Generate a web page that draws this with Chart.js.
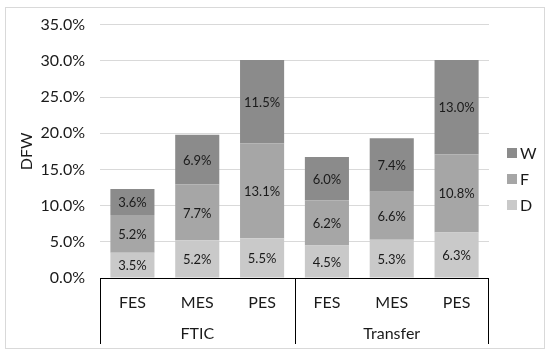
<!DOCTYPE html>
<html>
<head>
<meta charset="utf-8">
<script src="https://cdn.jsdelivr.net/npm/chart.js@4"></script>
<style>
  html, body { margin: 0; padding: 0; background: #fff; }
  #chart-box { width: 550px; height: 355px; }
</style>
</head>
<body>
<div id="chart-box"><canvas id="my-chart" width="550" height="355"></canvas></div>
<script>
'use strict';

//  DATA
let categories = ['FES', 'MES', 'PES', 'FES', 'MES', 'PES'];
let groups = ['FTIC', 'Transfer'];
let groupSize = 3;
let dValues = [3.5, 5.2, 5.5, 4.5, 5.3, 6.3];
let fValues = [5.2, 7.7, 13.1, 6.2, 6.6, 10.8];
let wValues = [3.6, 6.9, 11.5, 6.0, 7.4, 13.0];
let yTicks = [0, 5, 10, 15, 20, 25, 30, 35];

//  STYLE
let fontName = 'Lato, "Open Sans", sans-serif';
let textColor = '#1a1a1a';
let colorD = '#c9c9c9';
let colorF = '#a6a6a6';
let colorW = '#8b8b8b';

let canvasElem = document.getElementById('my-chart');

// PLUGINS

// white background + light frame round the whole chart
let framePlugin = {
  id: 'frame',
  beforeDraw(chart) {
    let ctx = chart.ctx;
    ctx.save();
    ctx.fillStyle = '#fff';
    ctx.fillRect(0, 0, chart.width, chart.height);
    ctx.strokeStyle = '#d9d9d9';
    ctx.lineWidth = 1;
    ctx.strokeRect(5.5, 7.5, 539, 341);
    ctx.restore();
  }
};

// percentage text in the middle of every segment
let valueLabelPlugin = {
  id: 'valueLabels',
  afterDatasetsDraw(chart) {
    let ctx = chart.ctx;
    ctx.save();
    ctx.font = '13px ' + fontName;
    ctx.fillStyle = textColor;
    ctx.textAlign = 'center';
    ctx.textBaseline = 'middle';
    chart.data.datasets.forEach((ds, i) => {
      let meta = chart.getDatasetMeta(i);
      meta.data.forEach((bar, j) => {
        let mid = (bar.y + bar.base) / 2;
        ctx.fillText(ds.data[j].toFixed(1) + '%', bar.x, mid + 1);
      });
    });
    ctx.restore();
  }
};

// second level of the category axis (FTIC / Transfer) with its lines
let groupAxisPlugin = {
  id: 'groupAxis',
  afterDraw(chart) {
    let ctx = chart.ctx;
    let xs = chart.scales.x;
    let area = chart.chartArea;
    let step = (area.right - area.left) / categories.length;
    let bottom = 344;
    ctx.save();
    ctx.strokeStyle = '#000';
    ctx.lineWidth = 1;
    ctx.beginPath();
    ctx.moveTo(area.left, Math.round(area.bottom) + 0.5);
    ctx.lineTo(area.right, Math.round(area.bottom) + 0.5);
    for (let g = 0; g <= groups.length; g++) {
      let x = Math.round(xs.getPixelForValue(g * groupSize) - step / 2) + 0.5;
      if (g === groups.length) {
        x = Math.round(area.right) - 0.5;
      }
      ctx.moveTo(x, area.bottom);
      ctx.lineTo(x, bottom);
    }
    ctx.stroke();

    ctx.font = '16px ' + fontName;
    ctx.fillStyle = textColor;
    ctx.textAlign = 'center';
    ctx.textBaseline = 'middle';
    for (let g = 0; g < groups.length; g++) {
      let first = xs.getPixelForValue(g * groupSize);
      let last = xs.getPixelForValue(g * groupSize + groupSize - 1);
      ctx.fillText(groups[g], (first + last) / 2, 334);
    }
    ctx.restore();
  }
};

// legend on the right, W on top
let legendPlugin = {
  id: 'sideLegend',
  afterDraw(chart) {
    let ctx = chart.ctx;
    let items = chart.data.datasets.slice().reverse();
    ctx.save();
    ctx.font = '16px ' + fontName;
    ctx.textAlign = 'left';
    ctx.textBaseline = 'middle';
    items.forEach((ds, i) => {
      let y = 153 + i * 26;
      ctx.fillStyle = ds.backgroundColor;
      ctx.fillRect(507, y - 5, 10, 10);
      ctx.fillStyle = textColor;
      ctx.fillText(ds.label, 520, y + 1);
    });
    ctx.restore();
  }
};

// CHART.JS CONFIG
let theChart = {
  type: 'bar',
  data: {
    labels: categories,
    datasets: [
      { label: 'D', data: dValues, backgroundColor: colorD },
      { label: 'F', data: fValues, backgroundColor: colorF },
      { label: 'W', data: wValues, backgroundColor: colorW }
    ]
  },
  options: {
    responsive: false,
    animation: false,
    devicePixelRatio: 1,
    layout: { padding: { left: 0, right: 61, top: 23, bottom: 0 } },
    datasets: {
      bar: { categoryPercentage: 1, barPercentage: 0.68, borderWidth: 0 }
    },
    plugins: {
      legend: { display: false },
      tooltip: { enabled: false }
    },
    scales: {
      x: {
        stacked: true,
        afterFit(scale) { scale.height = 77; },
        grid: { display: false, drawTicks: false },
        border: { display: false },
        ticks: {
          padding: 15,
          color: textColor,
          font: { family: fontName, size: 16 },
          maxRotation: 0,
          autoSkip: false
        }
      },
      y: {
        stacked: true,
        min: 0,
        max: 35,
        afterFit(scale) { scale.width = 100; },
        afterBuildTicks(scale) {
          scale.ticks = yTicks.map(v => ({ value: v }));
        },
        grid: { color: '#d9d9d9', drawTicks: false },
        border: { display: false },
        ticks: {
          padding: 15,
          color: textColor,
          font: { family: fontName, size: 16 },
          callback: v => v.toFixed(1) + '%'
        },
        title: {
          display: true,
          text: 'DFW',
          color: textColor,
          font: { family: fontName, size: 16 },
          padding: { top: 17, bottom: 0 }
        }
      }
    }
  },
  plugins: [framePlugin, valueLabelPlugin, groupAxisPlugin, legendPlugin]
};

// CONSTRUCTOR CALL TO RENDER THE CHART
new Chart(canvasElem, theChart);
</script>
</body>
</html>
